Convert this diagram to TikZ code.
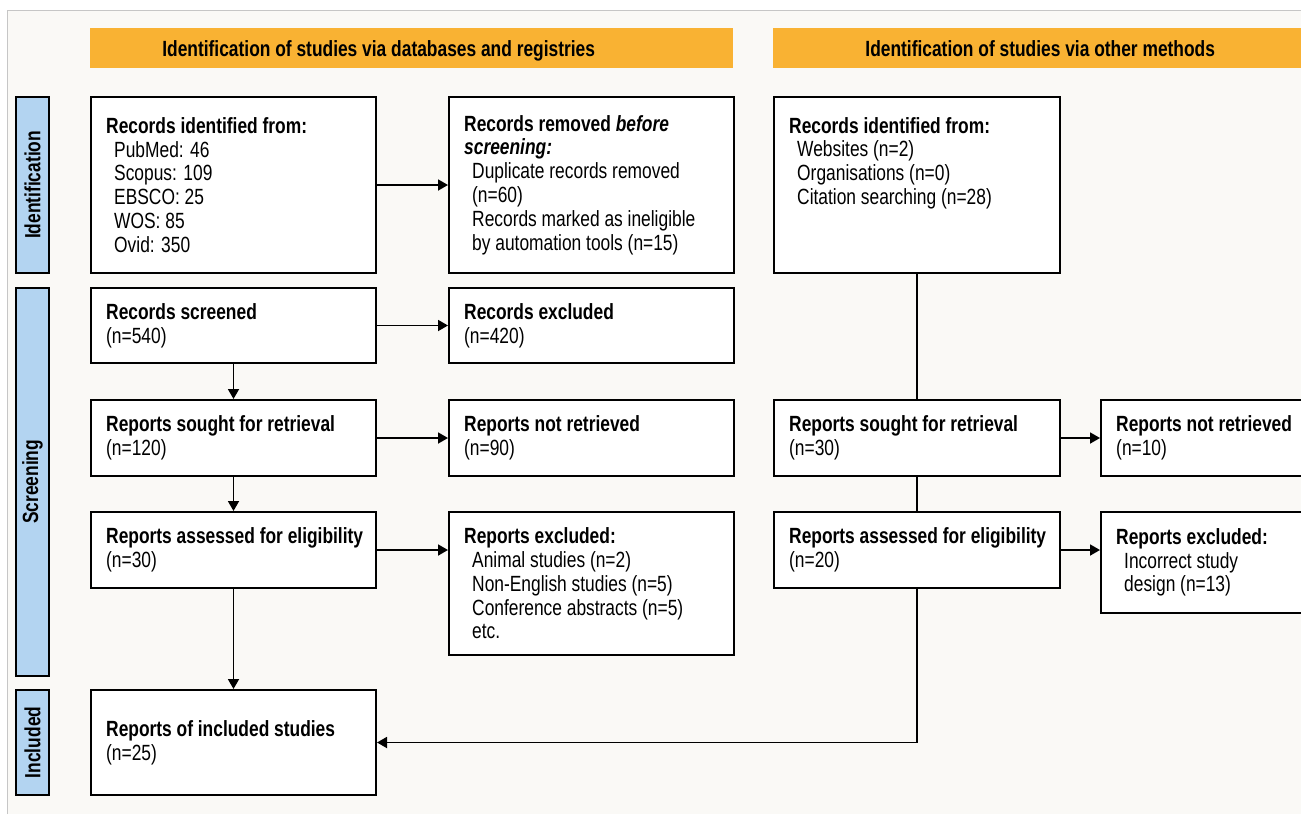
\documentclass[tikz,border=0pt]{standalone}
\usepackage{fontspec}
\setmainfont[FakeStretch=0.79]{Liberation Sans}
\usetikzlibrary{arrows.meta}
\definecolor{hdr}{HTML}{F9B233}
\definecolor{side}{HTML}{B3D4F1}
\definecolor{bgc}{HTML}{FAF9F6}
\definecolor{framec}{HTML}{C6C6C6}
\begin{document}
\begin{tikzpicture}[x=1bp,y=-1bp,
  every node/.style={font=\fontsize{22bp}{23.8bp}\selectfont, text=black},
  box/.style={draw=black, line width=2bp, fill=white, anchor=north west, inner sep=0pt},
  txt/.style={anchor=west, inner sep=0pt, align=left},
  hdrbox/.style={fill=hdr, anchor=north west, minimum height=40bp, inner sep=0pt},
  hdrtxt/.style={inner sep=0pt, anchor=base, font=\fontsize{22bp}{24bp}\selectfont\bfseries},
  sidebar/.style={draw=black, line width=1.8bp, fill=side, anchor=north west, minimum width=33bp, inner sep=0pt},
  sidelabel/.style={rotate=90, inner sep=0pt, font=\fontsize{22bp}{24bp}\selectfont\bfseries},
  conn/.style={line width=1.8bp, draw=black},
  arr/.style={conn, -{Triangle[length=10bp,width=11bp]}},
]
\clip (0,0) rectangle (1301,814);
\fill[white] (0,0) rectangle (1301,814);
\fill[bgc] (8,11) rectangle (1301,814);
\draw[framec, line width=1.6bp] (7.6,814) -- (7.6,10.6) -- (1301,10.6);

% headers
\node[hdrbox, minimum width=643bp] (h1) at (90,28) {};
\node[hdrtxt] (h1t) at ([xshift=-33bp, yshift=-8bp]h1.center) {Identification of studies via databases and registries};
\node[hdrbox, minimum width=534bp] (h2) at (773,28) {};
\node[hdrtxt] (h2t) at ([yshift=-8bp]h2.center) {Identification of studies via other methods};

% side bars
\node[sidebar, minimum height=176bp] (s1) at (15,96) {};
\node[sidelabel] (s1t) at (s1.center) {Identification};
\node[sidebar, minimum height=388bp] (s2) at (15,287) {};
\node[sidelabel] (s2t) at (s2.center) {Screening};
\node[sidebar, minimum height=105bp] (s3) at (15,689) {};
\node[sidelabel] (s3t) at (s3.center) {Included};

% left column
\node[box, minimum width=285bp, minimum height=176bp] (lid) at (90,96) {};
\node[txt] (lidt) at ([xshift=16bp]lid.west) {\textbf{Records identified from:}\\
\hspace*{8bp}PubMed: 46\\
\hspace*{8bp}Scopus: 109\\
\hspace*{8bp}EBSCO: 25\\
\hspace*{8bp}WOS: 85\\
\hspace*{8bp}Ovid: 350};
\node[box, minimum width=285bp, minimum height=75bp] (lsc) at (90,287) {};
\node[txt] (lsct) at ([xshift=16bp]lsc.west) {\textbf{Records screened}\\(n=540)};
\node[box, minimum width=285bp, minimum height=76bp] (lsr) at (90,399) {};
\node[txt] (lsrt) at ([xshift=16bp]lsr.west) {\textbf{Reports sought for retrieval}\\(n=120)};
\node[box, minimum width=285bp, minimum height=76bp] (lae) at (90,511) {};
\node[txt] (laet) at ([xshift=16bp]lae.west) {\textbf{Reports assessed for eligibility}\\(n=30)};
\node[box, minimum width=285bp, minimum height=105bp] (linc) at (90,689) {};
\node[txt] (linct) at ([xshift=16bp]linc.west) {\textbf{Reports of included studies}\\(n=25)};

% middle column
\node[box, minimum width=285bp, minimum height=176bp] (mrem) at (448,96) {};
\node[txt] (mremt) at ([xshift=16bp]mrem.west) {\textbf{Records removed \textit{before}}\\
\textbf{\textit{screening:}}\\
\hspace*{8bp}Duplicate records removed\\
\hspace*{8bp}(n=60)\\
\hspace*{8bp}Records marked as ineligible\\
\hspace*{8bp}by automation tools (n=15)};
\node[box, minimum width=285bp, minimum height=75bp] (mexc) at (448,287) {};
\node[txt] (mexct) at ([xshift=16bp]mexc.west) {\textbf{Records excluded}\\(n=420)};
\node[box, minimum width=285bp, minimum height=76bp] (mnr) at (448,399) {};
\node[txt] (mnrt) at ([xshift=16bp]mnr.west) {\textbf{Reports not retrieved}\\(n=90)};
\node[box, minimum width=285bp, minimum height=143bp] (mre) at (448,511) {};
\node[txt] (mret) at ([xshift=16bp]mre.west) {\textbf{Reports excluded:}\\
\hspace*{8bp}Animal studies (n=2)\\
\hspace*{8bp}Non-English studies (n=5)\\
\hspace*{8bp}Conference abstracts (n=5)\\
\hspace*{8bp}etc.};

% right column
\node[box, minimum width=286bp, minimum height=176bp] (rid) at (773,96) {};
\node[txt, anchor=north west] (ridt) at (789,117) {\textbf{Records identified from:}\\
\hspace*{8bp}Websites (n=2)\\
\hspace*{8bp}Organisations (n=0)\\
\hspace*{8bp}Citation searching (n=28)};
\node[box, minimum width=286bp, minimum height=76bp] (rsr) at (773,399) {};
\node[txt] (rsrt) at ([xshift=16bp]rsr.west) {\textbf{Reports sought for retrieval}\\(n=30)};
\node[box, minimum width=286bp, minimum height=76bp] (rae) at (773,511) {};
\node[txt] (raet) at ([xshift=16bp]rae.west) {\textbf{Reports assessed for eligibility}\\(n=20)};

% far right column
\node[box, minimum width=260bp, minimum height=76bp] (fnr) at (1100,399) {};
\node[txt] (fnrt) at ([xshift=16bp]fnr.west) {\textbf{Reports not retrieved}\\(n=10)};
\node[box, minimum width=260bp, minimum height=101bp] (fre) at (1100,511) {};
\node[txt] (fret) at ([xshift=16bp]fre.west) {\textbf{Reports excluded:}\\
\hspace*{8bp}Incorrect study\\
\hspace*{8bp}design (n=13)};

% connectors
\draw[arr] (lid.east) -- (mrem.west |- lid.east);
\draw[arr] (lsc.east) -- (mexc.west |- lsc.east);
\draw[arr] (lsr.east) -- (mnr.west |- lsr.east);
\draw[arr] (lae.east) -- (mre.west |- lae.east);
\draw[arr] (lsc.south) -- (lsr.north);
\draw[arr] (lsr.south) -- (lae.north);
\draw[arr] (lae.south) -- (linc.north);
\draw[conn] (rid.south) -- (rsr.north);
\draw[conn] (rsr.south) -- (rae.north);
\draw[arr] (rae.south) |- (linc.east);
\draw[arr] (rsr.east) -- (fnr.west |- rsr.east);
\draw[arr] (rae.east) -- (fre.west |- rae.east);
\end{tikzpicture}
\end{document}
